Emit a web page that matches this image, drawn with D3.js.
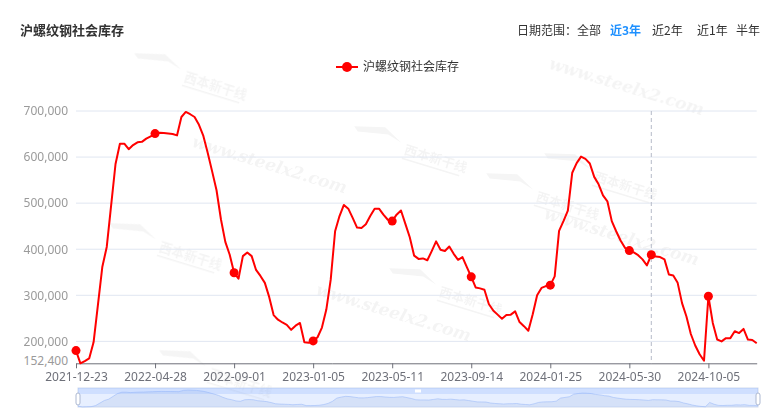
<!DOCTYPE html>
<html>
<head>
<meta charset="utf-8">
<script src="https://cdn.jsdelivr.net/npm/d3@7/dist/d3.min.js"></script>
<style>
html,body{margin:0;padding:0;background:#fff;}
svg{display:block;font-family:"Noto Sans CJK SC","Noto Sans",sans-serif;}
</style>
</head>
<body>
<svg id="c" width="768" height="415"></svg>
<script>
const title = "沪螺纹钢社会库存";
const seriesName = "沪螺纹钢社会库存";
const rangeLabel = "日期范围：";
const rangeOptions = ["全部", "近3年", "近2年", "近1年", "半年"];
const activeRange = "近3年";

const dates = [
"2021-12-23","2021-12-30","2022-01-06","2022-01-13","2022-01-20","2022-01-27","2022-02-03","2022-02-10","2022-02-17","2022-02-24",
"2022-03-03","2022-03-10","2022-03-17","2022-03-24","2022-03-31","2022-04-07","2022-04-14","2022-04-21","2022-04-28","2022-05-05",
"2022-05-12","2022-05-19","2022-05-26","2022-06-02","2022-06-09","2022-06-16","2022-06-23","2022-06-30","2022-07-07","2022-07-14",
"2022-07-21","2022-07-28","2022-08-04","2022-08-11","2022-08-18","2022-08-25","2022-09-01","2022-09-08","2022-09-15","2022-09-22",
"2022-09-29","2022-10-06","2022-10-13","2022-10-20","2022-10-27","2022-11-03","2022-11-10","2022-11-17","2022-11-24","2022-12-01",
"2022-12-08","2022-12-15","2022-12-22","2022-12-29","2023-01-05","2023-01-12","2023-01-19","2023-01-26","2023-02-02","2023-02-09",
"2023-02-16","2023-02-23","2023-03-02","2023-03-09","2023-03-16","2023-03-23","2023-03-30","2023-04-06","2023-04-13","2023-04-20",
"2023-04-27","2023-05-04","2023-05-11","2023-05-18","2023-05-25","2023-06-01","2023-06-08","2023-06-15","2023-06-22","2023-06-29",
"2023-07-06","2023-07-13","2023-07-20","2023-07-27","2023-08-03","2023-08-10","2023-08-17","2023-08-24","2023-08-31","2023-09-07",
"2023-09-14","2023-09-21","2023-09-28","2023-10-12","2023-10-19","2023-10-26","2023-11-02","2023-11-09","2023-11-16","2023-11-23",
"2023-11-30","2023-12-07","2023-12-14","2023-12-21","2023-12-28","2024-01-04","2024-01-11","2024-01-18","2024-01-25","2024-02-01",
"2024-02-08","2024-02-15","2024-02-22","2024-02-29","2024-03-07","2024-03-14","2024-03-21","2024-03-28","2024-04-04","2024-04-11",
"2024-04-18","2024-04-25","2024-05-02","2024-05-09","2024-05-16","2024-05-23","2024-05-30","2024-06-06","2024-06-13","2024-06-20",
"2024-06-27","2024-07-04","2024-07-11","2024-07-18","2024-07-25","2024-08-01","2024-08-08","2024-08-15","2024-08-22","2024-08-29",
"2024-09-05","2024-09-12","2024-09-19","2024-09-26","2024-10-05","2024-10-10","2024-10-17","2024-10-24","2024-10-31","2024-11-07",
"2024-11-14","2024-11-21","2024-11-28","2024-12-05","2024-12-12","2024-12-19"
];

const values = [
180000,152400,157000,163000,198000,280000,362000,405000,495000,585000,
629000,629000,617000,626000,632000,633000,640000,645000,651000,653000,
652000,651000,650000,647000,687000,698000,693000,687000,670000,646000,
609000,569000,528000,465000,416000,388000,349000,336000,385000,393000,
385000,355000,342000,327000,296000,257000,247000,241000,236000,225000,
234000,240000,198000,197000,201000,209000,230000,269000,334000,439000,
472000,496000,488000,468000,447000,446000,454000,472000,488000,488000,
475000,464000,461000,475000,484000,455000,426000,386000,379000,380000,
376000,396000,417000,399000,396000,406000,390000,377000,383000,361000,
340000,317000,315000,312000,281000,267000,258000,249000,257000,258000,
265000,242000,233000,223000,259000,300000,316000,320000,322000,341000,
440000,461000,484000,566000,587000,601000,596000,586000,557000,541000,
517000,504000,461000,439000,419000,403000,397000,393000,387000,378000,
365000,388000,384000,383000,378000,345000,343000,327000,283000,254000,
216000,191000,172000,158000,298000,240000,204000,200000,207000,207000,
222000,218000,227000,204000,203000,196000
];

const xTickLabels = ["2021-12-23","2022-04-28","2022-09-01","2023-01-05","2023-05-11","2023-09-14","2024-01-25","2024-05-30","2024-10-05"];
const yTickValues = [152400,200000,300000,400000,500000,600000,700000];
const hoverDate = "2024-07-04";

(function(){
const data = dates.map((d,i)=>({date:d, value:values[i]}));

const svg = d3.select("#c");
const gLeft = 76, gRight = 756.7, gTop = 111, gBottom = 363.3;

const x = d3.scalePoint().domain(dates).range([gLeft, gRight]);
const y = d3.scaleLinear().domain([152400, 700000]).range([gBottom, gTop]);

// watermarks
const wm = svg.append("g").attr("fill","#000").attr("opacity",0.045);
const wmText = [
  {t:"www.steelx2.com", x:268, y:170},
  {t:"www.steelx2.com", x:392, y:318},
  {t:"www.steelx2.com", x:625, y:92},
  {t:"www.steelx2.com", x:620, y:242}
];
wmText.forEach(w=>{
  wm.append("text").attr("transform",`translate(${w.x},${w.y}) rotate(17)`)
    .attr("text-anchor","middle").attr("font-family","DejaVu Serif, serif")
    .attr("font-size",17).attr("font-weight","bold").attr("font-style","italic").text(w.t);
});
const wmLogo = [{x:185,y:75},{x:405,y:148},{x:537,y:195},{x:160,y:245},{x:440,y:290},{x:210,y:372},{x:595,y:175}];
wmLogo.forEach(w=>{
  const g = wm.append("g").attr("transform",`translate(${w.x},${w.y}) rotate(17)`);
  g.append("path").attr("d","M-55,-6 L-25,-14 L-5,-4 L-20,-8 L-50,-2 Z").attr("opacity",0.9);
  g.append("text").attr("x",0).attr("y",6).attr("font-size",13).attr("font-weight","bold").text("西本新干线");
  g.append("rect").attr("x",0).attr("y",10).attr("width",60).attr("height",1.5);
});

// grid lines
svg.append("g").selectAll("line").data(yTickValues.filter(v=>v>152400)).join("line")
  .attr("x1",gLeft).attr("x2",gRight).attr("y1",d=>y(d)).attr("y2",d=>y(d))
  .attr("stroke","#E0E6F1").attr("stroke-width",1);

// y axis labels
const yAxis = d3.axisLeft(y).tickValues(yTickValues).tickSize(0).tickPadding(8)
  .tickFormat(d3.format(","));
const yg = svg.append("g").attr("transform",`translate(${gLeft},0)`).call(yAxis);
yg.select(".domain").remove();
yg.selectAll("text").attr("fill","#9a9a9a").attr("font-size",12).attr("font-family","Noto Sans, sans-serif");
yg.selectAll(".tick").filter(d=>d===152400).select("text").attr("dy","0.1em");

// x axis
const xAxis = d3.axisBottom(x).tickValues(xTickLabels).tickSize(5).tickPadding(4).tickSizeOuter(0);
const xg = svg.append("g").attr("transform",`translate(0,${gBottom})`).call(xAxis);
xg.select(".domain").attr("stroke","#6E7079");
xg.selectAll(".tick line").attr("stroke","#6E7079");
xg.selectAll("text").attr("fill","#6E7079").attr("font-size",12).attr("font-family","Noto Sans, sans-serif");

// hover pointer line
svg.append("line").attr("x1",x(hoverDate)).attr("x2",x(hoverDate)).attr("y1",gTop).attr("y2",gBottom)
  .attr("stroke","#B6BBC8").attr("stroke-dasharray","4,3").attr("stroke-width",1);

// series line
const line = d3.line().x(d=>x(d.date)).y(d=>y(d.value));
svg.append("path").datum(data).attr("d",line).attr("fill","none")
  .attr("stroke","#ff0000").attr("stroke-width",2).attr("stroke-linejoin","round");

// symbols
const symDates = new Set(xTickLabels.concat([hoverDate]));
svg.append("g").selectAll("circle").data(data.filter(d=>symDates.has(d.date))).join("circle")
  .attr("cx",d=>x(d.date)).attr("cy",d=>y(d.value)).attr("r",4.5).attr("fill","#ff0000");

// title
svg.append("text").attr("x",20).attr("y",35).attr("font-size",13).attr("font-weight","bold")
  .attr("fill","#333").text(title);

// range selector
const rx = [577, 610, 652, 697, 736];
svg.append("text").attr("x",517).attr("y",35).attr("font-size",12).attr("fill","#333").text(rangeLabel);
rangeOptions.forEach((r,i)=>{
  svg.append("text").attr("x",rx[i]).attr("y",35).attr("font-size",12)
    .attr("fill", r===activeRange ? "#1E90FF" : "#333")
    .attr("font-weight", r===activeRange ? "bold" : "normal").text(r);
});

// legend
svg.append("line").attr("x1",336).attr("x2",358).attr("y1",67).attr("y2",67).attr("stroke","#ff0000").attr("stroke-width",2);
svg.append("circle").attr("cx",347).attr("cy",67).attr("r",5).attr("fill","#ff0000");
svg.append("text").attr("x",363).attr("y",71).attr("font-size",12).attr("fill","#333").text(seriesName);

// data zoom slider
const sTop = 388, sH = 19, sL = 78, sR = 758;
const sx = d3.scalePoint().domain(dates).range([sL, sR]);
const sy = d3.scaleLinear().domain([152400, 700000]).range([sTop+sH, sTop+2]);
svg.append("rect").attr("x",sL).attr("y",sTop).attr("width",sR-sL).attr("height",sH)
  .attr("fill","none").attr("stroke","#d2dbee");
const area = d3.area().x(d=>sx(d.date)).y0(sTop+sH).y1(d=>sy(d.value));
svg.append("path").datum(data).attr("d",area).attr("fill","#d2dbee").attr("opacity",0.5);
svg.append("path").datum(data).attr("d",d3.line().x(d=>sx(d.date)).y(d=>sy(d.value)))
  .attr("fill","none").attr("stroke","#8fb0f7").attr("stroke-width",0.6).attr("opacity",0.8);
svg.append("rect").attr("x",sL).attr("y",sTop).attr("width",sR-sL).attr("height",sH)
  .attr("fill","rgba(135,175,274,0.2)");
svg.append("rect").attr("x",sL).attr("y",sTop).attr("width",sR-sL).attr("height",6)
  .attr("fill","rgba(135,175,274,0.25)");
svg.append("rect").attr("x",(sL+sR)/2-3).attr("y",sTop+1.5).attr("width",6).attr("height",3).attr("fill","#fff");
[sL, sR].forEach(hx=>{
  svg.append("rect").attr("x",hx-2).attr("y",sTop+5).attr("width",4).attr("height",12).attr("rx",2)
    .attr("fill","#fff").attr("stroke","#ACB8D1");
});
})();
</script>
</body>
</html>
